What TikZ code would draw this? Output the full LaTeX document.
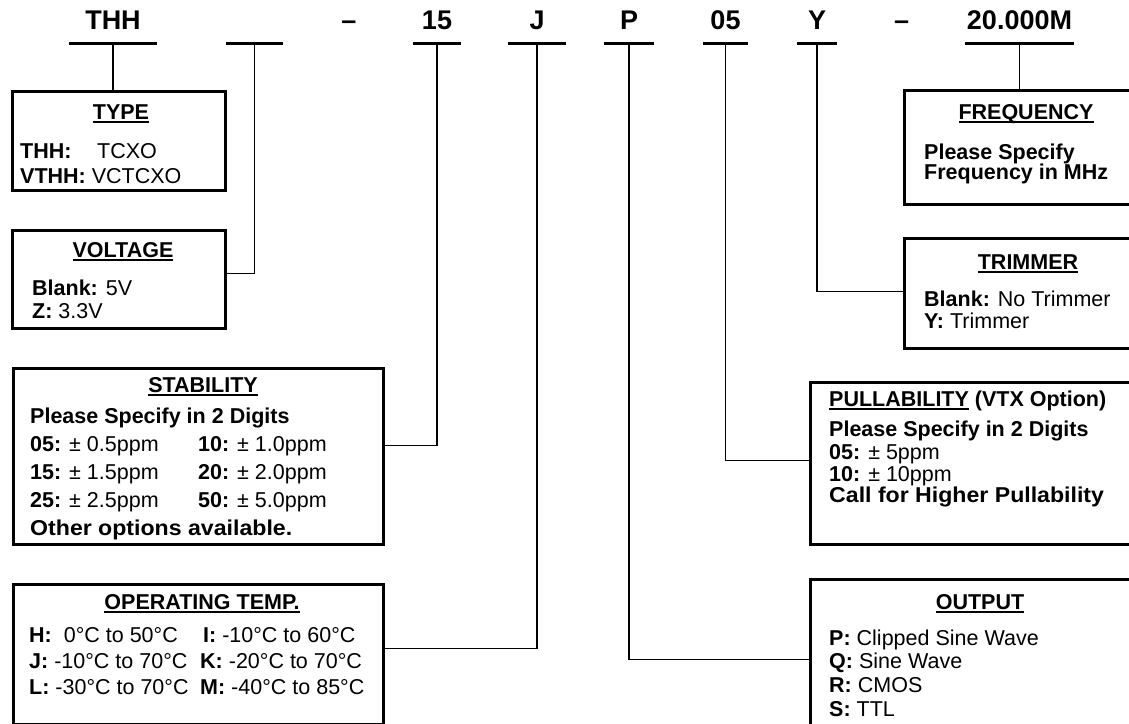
\documentclass[tikz,border=0pt]{standalone}
\usepackage{fontspec}
\usepackage{graphicx}
\setmainfont{Liberation Sans}
\usetikzlibrary{positioning,calc}

\newcommand{\codefont}{\fontsize{27}{30}\selectfont\bfseries}
\newcommand{\bodyfont}{\fontsize{21.5}{26}\selectfont}
\newcommand{\wideline}[1]{\scalebox{1.075}[1]{#1}}
\newsavebox{\ulbox}
\newcommand{\hdul}[1]{\sbox{\ulbox}{#1}\rlap{\rule[-3.5pt]{\wd\ulbox}{2pt}}\usebox{\ulbox}}

\begin{document}
\begin{tikzpicture}[x=1pt, y=-1pt,
    codefield/.style={font=\codefont, anchor=base, inner sep=0pt, text depth=13.5pt},
    uline/.style={line width=3.3pt},
    specbox/.style={draw, line width=3pt, inner sep=0pt, anchor=north west},
    link/.style={line width=1.8pt},
    ttl/.style={font=\bodyfont\bfseries, inner sep=0pt, anchor=north},
    body/.style={font={\fontsize{21.5}{#1}\selectfont\lineskiplimit=-100pt}, inner sep=0pt, anchor=north west, align=left},
]
    \useasboundingbox (0,0) rectangle (1129,723);
    \clip (0,0) rectangle (1129,723);

    % part number fields
    \node[codefield, minimum width=88pt] (cthh) at (113,29.5) {THH};
    \node[codefield, minimum width=57pt] (cvolt) at (254.5,29.5) {};
    \node[codefield] (dash1) at (349,29.5) {–};
    \node[codefield, minimum width=48pt] (cstab) at (437,29.5) {15};
    \node[codefield, minimum width=58pt] (ctemp) at (537,29.5) {J};
    \node[codefield, minimum width=50pt] (cout) at (629,29.5) {P};
    \node[codefield, minimum width=45pt] (cpull) at (725.5,29.5) {05};
    \node[codefield, minimum width=40pt] (ctrim) at (817,29.5) {Y};
    \node[codefield] (dash2) at (901.5,29.5) {–};
    \node[codefield, minimum width=109pt] (cfreq) at (1019.5,29.5) {20.000M};
    \foreach \c in {cthh,cvolt,cstab,ctemp,cout,cpull,ctrim,cfreq}
        \draw[uline] (\c.south west) -- (\c.south east);

    % left column
    \node[specbox, minimum width=213pt, minimum height=99pt] (type) at (11,90) {};
    \node[ttl] (typetitle) at (121,104.3) {\hdul{TYPE}};
    \node[body=25] (typetext) at (20,143.3) {\makebox[77pt][l]{\textbf{THH:}}TCXO\\\textbf{VTHH:} VCTCXO};

    \node[specbox, minimum width=213pt, minimum height=98pt] (volt) at (11,229) {};
    \node[ttl] (volttitle) at (123,242.3) {\hdul{VOLTAGE}};
    \node[body=23] (volttext) at (32,279.3) {\textbf{Blank:} 5V\\\textbf{Z:} 3.3V};

    \node[specbox, minimum width=370pt, minimum height=176pt] (stab) at (12,367) {};
    \node[ttl] (stabtitle) at (203,377.3) {\hdul{STABILITY}};
    \node[body=28] (stabtext) at (30,407.3) {\textbf{Please Specify in 2 Digits}\\
        \makebox[168pt][l]{\textbf{05:} ± 0.5ppm}\textbf{10:} ± 1.0ppm\\
        \makebox[168pt][l]{\textbf{15:} ± 1.5ppm}\textbf{20:} ± 2.0ppm\\
        \makebox[168pt][l]{\textbf{25:} ± 2.5ppm}\textbf{50:} ± 5.0ppm\\
        \wideline{\textbf{Other options available.}}};

    \node[specbox, minimum width=370pt, minimum height=140pt] (temp) at (12,583) {};
    \node[ttl] (temptitle) at (202,594.3) {\hdul{OPERATING TEMP.}};
    \node[body=26] (temptext) at (29,627.3) {\makebox[171pt][l]{\textbf{H:}\ \ 0°C to 50°C}\hspace{3pt}\textbf{I:} -10°C to 60°C\\
        \makebox[171pt][l]{\textbf{J:} -10°C to 70°C}\textbf{K:} -20°C to 70°C\\
        \makebox[171pt][l]{\textbf{L:} -30°C to 70°C}\textbf{M:} -40°C to 85°C};

    % right column
    \node[specbox, minimum width=240pt, minimum height=114pt] (freq) at (903,89) {};
    \node[ttl] (freqtitle) at (1026,104.3) {\hdul{FREQUENCY}};
    \node[body=20] (freqtext) at (924,143.3) {\textbf{Please Specify}\\\textbf{Frequency in MHz}};

    \node[specbox, minimum width=240pt, minimum height=110pt] (trim) at (903,237) {};
    \node[ttl] (trimtitle) at (1028,254.3) {\hdul{TRIMMER}};
    \node[body=22] (trimtext) at (924,290.3) {\textbf{Blank:} No Trimmer\\\textbf{Y:} Trimmer};

    \node[specbox, minimum width=334pt, minimum height=162pt] (pull) at (809,381) {};
    \node[ttl, anchor=north west] (pulltitle) at (829,390.3) {\hdul{PULLABILITY} (VTX Option)};
    \node[body=21.5] (pulltext) at (829,420.3) {\textbf{Please Specify in 2 Digits}\\[2pt]
        \textbf{05:} ± 5ppm\\\textbf{10:} ± 10ppm\\\wideline{\textbf{Call for Higher Pullability}}};

    \node[specbox, minimum width=334pt, minimum height=160pt] (out) at (809,578) {};
    \node[ttl] (outtitle) at (980,594.3) {\hdul{OUTPUT}};
    \node[body=23.7] (outtext) at (829,629.3) {\textbf{P:} Clipped Sine Wave\\\textbf{Q:} Sine Wave\\
        \textbf{R:} CMOS\\\textbf{S:} TTL};

    % leaders from fields to boxes
    \draw[link] (cthh.south) -- (cthh.south |- type.north);
    \draw[link] (cvolt.south) |- ([yshift=6pt]volt.east);
    \draw[link] (cstab.south) |- ([yshift=11pt]stab.east);
    \draw[link] (ctemp.south) |- ([yshift=6pt]temp.east);
    \draw[link] (cout.south) |- (out.west);
    \draw[link] (cpull.south) |- ([yshift=3pt]pull.west);
    \draw[link] (ctrim.south) |- ([yshift=2pt]trim.west);
    \draw[link] (cfreq.south) -- (cfreq.south |- freq.north);
\end{tikzpicture}
\end{document}
